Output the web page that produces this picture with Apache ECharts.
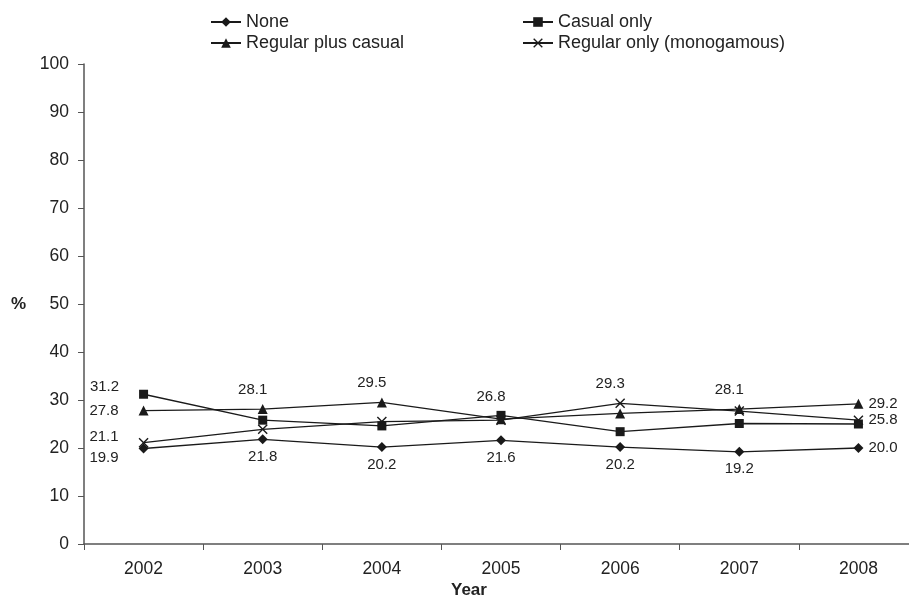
<!DOCTYPE html>
<html>
<head>
<meta charset="utf-8">
<script src="https://cdn.jsdelivr.net/npm/echarts@6/dist/echarts.min.js"></script>
<style>
  html, body { margin: 0; padding: 0; background: #fff; }
  #chart { width: 909px; height: 603px; }
</style>
</head>
<body>
<div id="chart"></div>
<script>
var years = ['2002', '2003', '2004', '2005', '2006', '2007', '2008'];
var yTicks = [0, 10, 20, 30, 40, 50, 60, 70, 80, 90, 100];

var noneVals = [19.9, 21.8, 20.2, 21.6, 20.2, 19.2, 20.0];
var casualVals = [31.2, 25.8, 24.6, 26.8, 23.4, 25.1, 25.0];
var regCasualVals = [27.8, 28.1, 29.5, 26.0, 27.2, 28.1, 29.2];
var regOnlyVals = [21.1, 23.9, 25.5, 25.8, 29.3, 27.7, 25.8];

// which points carry a value label, and where
var noneLabels = ['left', 'bottom', 'bottom', 'bottom', 'bottom', 'bottom', 'right'];
var casualLabels = ['left', null, null, 'top', null, null, null];
var regCasualLabels = ['left', 'top', 'top', null, null, 'top', 'right'];
var regOnlyLabels = ['left', null, null, null, 'top', null, 'right'];

var FONT = 'Liberation Sans, Arial, sans-serif';
var INK = '#1a1a1a';
var xMark = 'path://M0,1 L1,0 L5,4 L9,0 L10,1 L6,5 L10,9 L9,10 L5,6 L1,10 L0,9 L4,5 Z';

function labelFor(pos, leftDy) {
  if (!pos) return { show: false };
  var l = { show: true, position: pos, color: '#222', fontSize: 15, fontFamily: FONT };
  if (pos === 'left') { l.distance = 20; l.offset = [0, leftDy]; }
  if (pos === 'top') { l.distance = 7; l.offset = [-10, 0]; }
  if (pos === 'bottom') { l.distance = 5; }
  if (pos === 'right') { l.distance = 5; }
  return l;
}

function makeSeries(name, vals, labels, symbol, size, leftDy) {
  return {
    name: name,
    type: 'line',
    symbol: symbol,
    symbolSize: size,
    lineStyle: { color: INK, width: 1.3 },
    itemStyle: { color: INK },
    label: { formatter: function (p) { return p.value.toFixed(1); } },
    data: vals.map(function (v, i) {
      return { value: v, label: labelFor(labels[i], leftDy) };
    })
  };
}

var legendText = { fontSize: 18, color: '#222', fontFamily: FONT };

var chart = echarts.init(document.getElementById('chart'));
chart.setOption({
  animation: false,
  textStyle: { fontFamily: FONT },
  legend: [
    {
      orient: 'vertical', left: 210, top: 13, itemWidth: 30, itemHeight: 12, itemGap: 3,
      padding: 0, textStyle: legendText,
      data: ['None', 'Regular plus casual']
    },
    {
      orient: 'vertical', left: 522, top: 13, itemWidth: 30, itemHeight: 12, itemGap: 3,
      padding: 0, textStyle: legendText,
      data: ['Casual only', 'Regular only (monogamous)']
    }
  ],
  // plot runs past the right edge of the picture, as in the cropped original
  grid: { left: 84, width: 834, top: 64, height: 480, containLabel: false, outerBoundsMode: 'none' },
  xAxis: {
    type: 'category',
    data: years,
    boundaryGap: true,
    axisLine: { lineStyle: { color: '#555', width: 1.5 } },
    axisTick: { show: true, length: 6, lineStyle: { color: '#555' } },
    axisLabel: { color: '#222', fontSize: 17.5, margin: 16, fontFamily: FONT },
    splitLine: { show: false }
  },
  yAxis: {
    type: 'value',
    min: yTicks[0],
    max: yTicks[yTicks.length - 1],
    interval: 10,
    axisLine: { show: true, lineStyle: { color: '#555', width: 1.5 } },
    axisTick: { show: true, length: 6, lineStyle: { color: '#555' } },
    axisLabel: { color: '#222', fontSize: 17.5, margin: 15, fontFamily: FONT },
    splitLine: { show: false },
    name: '%',
    nameLocation: 'middle',
    nameRotate: 0,
    nameGap: 58,
    nameTextStyle: { fontSize: 17, fontWeight: 'bold', color: '#222', fontFamily: FONT }
  },
  graphic: [
    {
      type: 'text', left: 451, top: 582,
      style: { text: 'Year', fontSize: 17, fontWeight: 'bold', fill: '#222', fontFamily: FONT }
    }
  ],
  series: [
    makeSeries('None', noneVals, noneLabels, 'diamond', 10, 9),
    makeSeries('Casual only', casualVals, casualLabels, 'rect', 9, -7),
    makeSeries('Regular plus casual', regCasualVals, regCasualLabels, 'triangle', 10, 0),
    makeSeries('Regular only (monogamous)', regOnlyVals, regOnlyLabels, xMark, 10, -6)
  ]
});
</script>
</body>
</html>
